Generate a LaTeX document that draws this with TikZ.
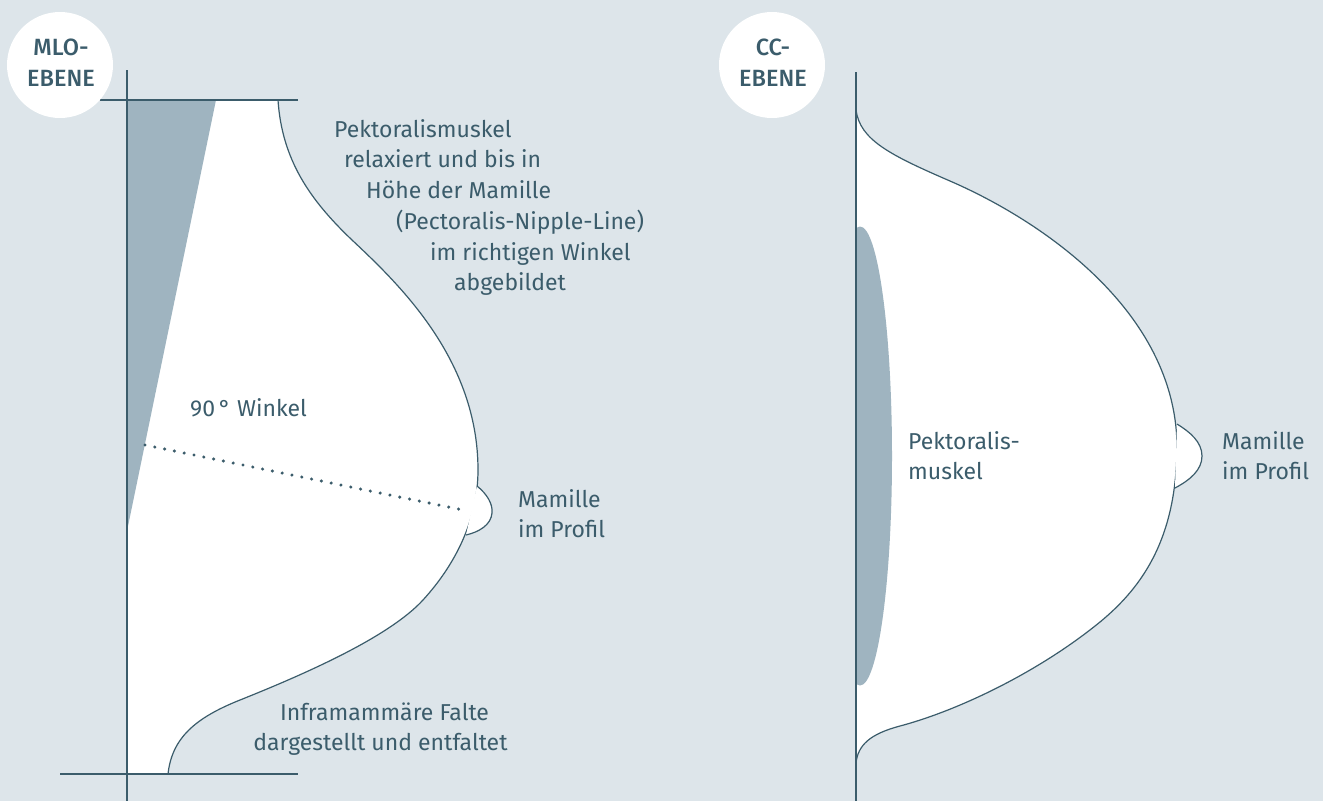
\documentclass[tikz,border=0pt]{standalone}
\usepackage{fontspec}
\setmainfont{Fira Sans}
\newfontfamily\medfont{Fira Sans Medium}
\definecolor{bg}{RGB}{221,229,234}
\definecolor{ink}{RGB}{59,92,107}
\definecolor{muscle}{RGB}{159,180,192}
\tikzset{
  lbl/.style={text=ink, font=\fontsize{23}{31}\selectfont, inner sep=0pt, anchor=base west},
  lblc/.style={lbl, anchor=base},
  badgetxt/.style={text=ink, font=\medfont\fontsize{23.5}{31}\selectfont, inner sep=0pt, anchor=base},
  axis/.style={draw=ink, line width=1.4pt},
  outline/.style={draw=ink, line width=1.2pt},
  badge/.style={circle, fill=white, minimum size=106pt, inner sep=0pt},
  dotline/.style={draw=ink, line width=3.4pt, line cap=round, dash pattern=on 0pt off 10pt},
}
\begin{document}
\begin{tikzpicture}[x=1pt,y=-1pt]
\fill[bg] (0,0) rectangle (1323,801);
\useasboundingbox (0,0) rectangle (1323,801);

% ---------- left (MLO) ----------
\def\leftcurve{(278,100) .. controls (282,160) and (310,200) .. (352,240)
  .. controls (400,285) and (478,360) .. (478,470)
  .. controls (478,520) and (455,565) .. (423,600)
  .. controls (390,636) and (310,672) .. (240,700)
  .. controls (195,718) and (172,738) .. (168,774)}
\fill[white] (127,100) -- \leftcurve -- (127,774) -- cycle;
\fill[muscle] (127,100) -- (216,100) -- (127,531) -- cycle;
\draw[outline] \leftcurve;
\filldraw[outline, fill=white] (477,486) .. controls (487,494) and (493,504) .. (492,513) .. controls (491,525) and (479,532) .. (466,535);
\draw[axis] (127,70) -- (127,801);
\draw[axis] (100,100) -- (298,100);
\draw[axis] (60,774) -- (298,774);
\coordinate (pl) at (145,445);
\coordinate (nl) at (468,511);
\draw[dotline] (pl) -- (nl);

\node[badge] (mlo) at (60,65) {};
\node[badgetxt] (mloA) at (61,55) {MLO-};
\node[badgetxt] (mloB) at (61,86) {EBENE};

\node[lbl] (t1) at (334,137) {Pektoralismuskel};
\node[lbl] (t2) at (344,167) {relaxiert und bis in};
\node[lbl] (t3) at (366,198) {Höhe der Mamille};
\node[lbl] (t4) at (396,229) {(Pectoralis-Nipple-Line)};
\node[lbl] (t5) at (430,260) {im richtigen Winkel};
\node[lbl] (t6) at (454,290) {abgebildet};
\node[lbl] (w) at (190,416) {90\,° Winkel};
\node[lbl] (m1) at (518,507) {Mamille};
\node[lbl] (m2) at (518,537) {im Profil};
\node[lblc] (i1) at (384.5,720) {Inframammäre Falte};
\node[lblc] (i2) at (380.5,750) {dargestellt und entfaltet};

% ---------- right (CC) ----------
\def\rightcurve{(856,110) .. controls (860,140) and (890,155) .. (950,181)
  .. controls (1040,220) and (1175,310) .. (1177,445)
  .. controls (1177,535) and (1145,585) .. (1100,622)
  .. controls (1040,671) and (960,710) .. (900,726)
  .. controls (870,734) and (858,745) .. (856,763)}
\fill[white] \rightcurve -- cycle;
\begin{scope}
\clip (856,0) rectangle (1000,801);
\fill[muscle] (860,456) ellipse [x radius=32pt, y radius=229.5pt];
\end{scope}
\draw[outline] \rightcurve;
\filldraw[outline, fill=white] (1177,424) .. controls (1190,432) and (1202,442) .. (1202,456) .. controls (1202,470) and (1190,480) .. (1175,488);
\draw[axis] (856,72) -- (856,801);

\node[badge] (cc) at (772,65) {};
\node[badgetxt] (ccA) at (773,55) {CC-};
\node[badgetxt] (ccB) at (773,86) {EBENE};

\node[lbl] (p1) at (908,449) {Pektoralis-};
\node[lbl] (p2) at (908,479) {muskel};
\node[lbl] (r1) at (1222,449) {Mamille};
\node[lbl] (r2) at (1222,479) {im Profil};
\end{tikzpicture}
\end{document}
